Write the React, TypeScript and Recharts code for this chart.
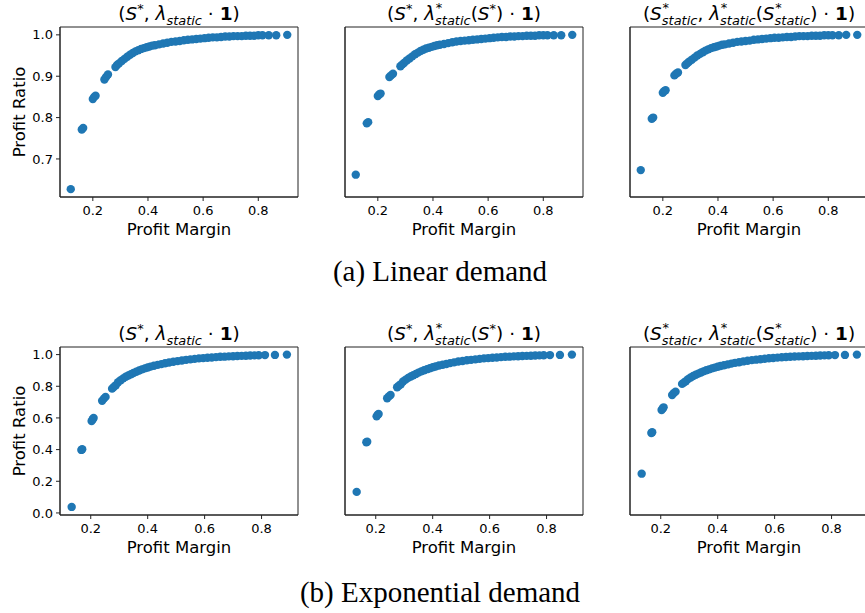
import React from 'react';
import { ScatterChart, Scatter, XAxis, YAxis, Label, ReferenceArea } from 'recharts';

// profit margins, shared by the three panels of each row
const linearMargins = [
  0.120, 0.160, 0.165, 0.200, 0.205, 0.210, 0.242, 0.248, 0.255, 0.282,
  0.288, 0.295, 0.305, 0.315, 0.325, 0.335, 0.345, 0.355, 0.365, 0.375,
  0.385, 0.395, 0.405, 0.415, 0.425, 0.440, 0.455, 0.470, 0.485, 0.500,
  0.515, 0.530, 0.545, 0.560, 0.575, 0.590, 0.605, 0.620, 0.635, 0.650,
  0.665, 0.680, 0.695, 0.710, 0.725, 0.740, 0.755, 0.770, 0.785, 0.800,
  0.815, 0.838, 0.865, 0.905,
];

const linearRatioA = [
  0.627, 0.771, 0.775, 0.845, 0.850, 0.853, 0.892, 0.898, 0.904, 0.922,
  0.927, 0.931, 0.937, 0.942, 0.947, 0.952, 0.956, 0.960, 0.963, 0.966,
  0.968, 0.970, 0.972, 0.974, 0.975, 0.977, 0.979, 0.981, 0.983, 0.984,
  0.985, 0.987, 0.988, 0.989, 0.990, 0.991, 0.992, 0.993, 0.994, 0.994,
  0.995, 0.996, 0.996, 0.997, 0.997, 0.997, 0.998, 0.998, 0.998, 0.999,
  0.999, 0.999, 0.999, 1.000,
];

const linearRatioB = [
  0.662, 0.786, 0.789, 0.852, 0.856, 0.858, 0.898, 0.902, 0.906, 0.924,
  0.928, 0.932, 0.938, 0.943, 0.948, 0.953, 0.957, 0.961, 0.964, 0.967,
  0.969, 0.971, 0.973, 0.975, 0.976, 0.978, 0.980, 0.982, 0.984, 0.985,
  0.986, 0.987, 0.988, 0.989, 0.990, 0.991, 0.992, 0.993, 0.994, 0.995,
  0.995, 0.996, 0.996, 0.997, 0.997, 0.998, 0.998, 0.998, 0.999, 0.999,
  0.999, 0.999, 0.999, 1.000,
];

const linearRatioC = [
  0.673, 0.797, 0.800, 0.860, 0.864, 0.866, 0.902, 0.906, 0.909, 0.927,
  0.931, 0.935, 0.940, 0.945, 0.950, 0.954, 0.958, 0.962, 0.965, 0.968,
  0.970, 0.972, 0.974, 0.976, 0.977, 0.979, 0.981, 0.983, 0.984, 0.985,
  0.986, 0.988, 0.989, 0.990, 0.991, 0.992, 0.993, 0.993, 0.994, 0.995,
  0.995, 0.996, 0.997, 0.997, 0.997, 0.998, 0.998, 0.998, 0.999, 0.999,
  0.999, 0.999, 1.000, 1.000,
];

const expMargins = [
  0.133, 0.167, 0.170, 0.203, 0.207, 0.210, 0.240, 0.246, 0.252, 0.275,
  0.281, 0.288, 0.296, 0.305, 0.314, 0.323, 0.332, 0.341, 0.350, 0.360,
  0.370, 0.380, 0.390, 0.400, 0.410, 0.422, 0.435, 0.448, 0.461, 0.475,
  0.490, 0.505, 0.520, 0.535, 0.550, 0.565, 0.580, 0.595, 0.610, 0.625,
  0.640, 0.655, 0.670, 0.685, 0.700, 0.715, 0.730, 0.745, 0.760, 0.775,
  0.790, 0.812, 0.847, 0.889,
];

const expRatioA = [
  0.038, 0.398, 0.402, 0.580, 0.592, 0.600, 0.708, 0.722, 0.733, 0.785,
  0.795, 0.807, 0.825, 0.838, 0.850, 0.860, 0.868, 0.876, 0.884, 0.892,
  0.900, 0.907, 0.913, 0.919, 0.924, 0.930, 0.935, 0.940, 0.945, 0.950,
  0.955, 0.959, 0.963, 0.967, 0.970, 0.973, 0.976, 0.978, 0.980, 0.982,
  0.984, 0.986, 0.987, 0.989, 0.990, 0.991, 0.992, 0.993, 0.994, 0.995,
  0.996, 0.997, 0.998, 1.000,
];

const expRatioB = [
  0.133, 0.446, 0.450, 0.610, 0.620, 0.625, 0.724, 0.736, 0.745, 0.794,
  0.803, 0.813, 0.830, 0.842, 0.853, 0.862, 0.870, 0.878, 0.886, 0.894,
  0.901, 0.908, 0.914, 0.920, 0.925, 0.931, 0.936, 0.941, 0.946, 0.951,
  0.956, 0.960, 0.964, 0.967, 0.970, 0.973, 0.976, 0.978, 0.980, 0.982,
  0.984, 0.986, 0.987, 0.989, 0.990, 0.991, 0.992, 0.993, 0.994, 0.995,
  0.996, 0.997, 0.998, 1.000,
];

const expRatioC = [
  0.248, 0.505, 0.510, 0.650, 0.660, 0.667, 0.745, 0.757, 0.766, 0.815,
  0.823, 0.832, 0.845, 0.855, 0.865, 0.873, 0.880, 0.887, 0.894, 0.901,
  0.907, 0.913, 0.918, 0.923, 0.928, 0.933, 0.938, 0.943, 0.948, 0.952,
  0.957, 0.961, 0.965, 0.968, 0.971, 0.974, 0.977, 0.979, 0.981, 0.983,
  0.985, 0.986, 0.988, 0.989, 0.990, 0.991, 0.992, 0.993, 0.994, 0.995,
  0.996, 0.997, 0.998, 1.000,
];

const marginTicks = [0.2, 0.4, 0.6, 0.8];
const linearTicks = [0.7, 0.8, 0.9, 1.0];
const expTicks = [0, 0.2, 0.4, 0.6, 0.8, 1.0];

const BLUE = '#1f77b4';
const AXIS = '#222';
const FONT = '"DejaVu Sans", sans-serif';

const toPoints = (xs: number[], ys: number[]) => xs.map((x, i) => ({ x, y: ys[i] }));

const Dot = (p: any) => <circle cx={p.cx} cy={p.cy} r={4.2} fill={BLUE} />;

const It = ({ children }: { children: React.ReactNode }) => <i>{children}</i>;

// subscript with an optional superscript stacked above it
const SupSub = ({ sup, sub }: { sup?: string; sub: string }) => (
  <span style={{ position: 'relative', display: 'inline-block', fontSize: '0.7em', lineHeight: 1 }}>
    <span style={{ position: 'relative', top: '0.42em', fontStyle: 'italic' }}>{sub}</span>
    {sup ? <span style={{ position: 'absolute', left: '0.05em', top: '-0.55em' }}>{sup}</span> : null}
  </span>
);

const Star = () => (
  <span style={{ position: 'relative', top: '-0.5em', fontSize: '0.7em', lineHeight: 1 }}>*</span>
);

const Title1 = () => (
  <span>(<It>S</It><Star />, <It>λ</It><SupSub sub="static" /> · <b>1</b>)</span>
);
const Title2 = () => (
  <span>(<It>S</It><Star />, <It>λ</It><SupSub sup="*" sub="static" />(<It>S</It><Star />) · <b>1</b>)</span>
);
const Title3 = () => (
  <span>(<It>S</It><SupSub sup="*" sub="static" />, <It>λ</It><SupSub sup="*" sub="static" />(<It>S</It><SupSub sup="*" sub="static" />) · <b>1</b>)</span>
);

const COLS = [60, 345, 630];
const PLOT_W = 238;

type PanelProps = {
  left: number;
  top: number;
  h: number;
  data: { x: number; y: number }[];
  xDomain: [number, number];
  yDomain: [number, number];
  yTicks: number[];
  first: boolean;
  title: React.ReactNode;
};

const Panel = ({ left, top, h, data, xDomain, yDomain, yTicks, first, title }: PanelProps) => {
  const tickStyle = { fontSize: 13, fill: '#000', fontFamily: FONT };
  return (
    <>
      <div style={{ position: 'absolute', left: left - 20, top: top - 24.5, width: PLOT_W + 40, textAlign: 'center', fontFamily: FONT, fontSize: 18.5, lineHeight: '22px', whiteSpace: 'nowrap', color: '#000' }}>
        {title}
      </div>
      <div style={{ position: 'absolute', left: left - 60, top: top - 30 }}>
        <ScatterChart width={306} height={30 + h + 50} margin={{ top: 30, right: 8, bottom: 0, left: 0 }}>
          <XAxis type="number" dataKey="x" domain={xDomain} ticks={marginTicks} allowDataOverflow
            tickFormatter={(v: number) => v.toFixed(1)} height={50} stroke={AXIS} tick={tickStyle}
            tickSize={4} tickMargin={5}>
            <Label value="Profit Margin" position="insideBottom" offset={12}
              style={{ fontSize: 16.5, fill: '#000', fontFamily: FONT }} />
          </XAxis>
          <YAxis type="number" dataKey="y" domain={yDomain} ticks={yTicks} allowDataOverflow width={60}
            tickFormatter={(v: number) => v.toFixed(1)} stroke={AXIS} tick={first ? tickStyle : false}
            tickSize={4} tickMargin={3}>
            {first ? (
              <Label value="Profit Ratio" angle={-90} position="insideLeft" offset={19}
                style={{ fontSize: 16.5, fill: '#000', fontFamily: FONT, textAnchor: 'middle' }} />
            ) : null}
          </YAxis>
          <ReferenceArea x1={xDomain[0]} x2={xDomain[1]} y1={yDomain[0]} y2={yDomain[1]}
            fill="none" fillOpacity={0} stroke={AXIS} strokeWidth={1} ifOverflow="visible" />
          <Scatter data={data} shape={Dot} isAnimationActive={false} />
        </ScatterChart>
      </div>
    </>
  );
};

const Caption = ({ top, text }: { top: number; text: string }) => (
  <div style={{ position: 'absolute', left: 0, width: 880, top, textAlign: 'center', fontFamily: '"Liberation Serif", serif', fontSize: 29, color: '#000', lineHeight: '32px' }}>
    {text}
  </div>
);

const App = () => {
  const rows = [
    {
      top: 27, h: 170, margins: linearMargins, ratios: [linearRatioA, linearRatioB, linearRatioC],
      xDomain: [0.081, 0.944] as [number, number], yDomain: [0.608, 1.019] as [number, number], yTicks: linearTicks,
    },
    {
      top: 347, h: 168, margins: expMargins, ratios: [expRatioA, expRatioB, expRatioC],
      xDomain: [0.092, 0.928] as [number, number], yDomain: [-0.013, 1.048] as [number, number], yTicks: expTicks,
    },
  ];
  const titles = [<Title1 />, <Title2 />, <Title3 />];
  return (
    <div style={{ position: 'absolute', left: 0, top: 0, width: 865, height: 613, overflow: 'hidden', background: '#fff' }}>
      {rows.map((r, ri) =>
        COLS.map((c, ci) => (
          <Panel key={`${ri}-${ci}`} left={c} top={r.top} h={r.h}
            data={toPoints(r.margins, r.ratios[ci])} xDomain={r.xDomain} yDomain={r.yDomain}
            yTicks={r.yTicks} first={ci === 0} title={titles[ci]} />
        ))
      )}
      <Caption top={255} text="(a) Linear demand" />
      <Caption top={576} text="(b) Exponential demand" />
    </div>
  );
};

export default App;
